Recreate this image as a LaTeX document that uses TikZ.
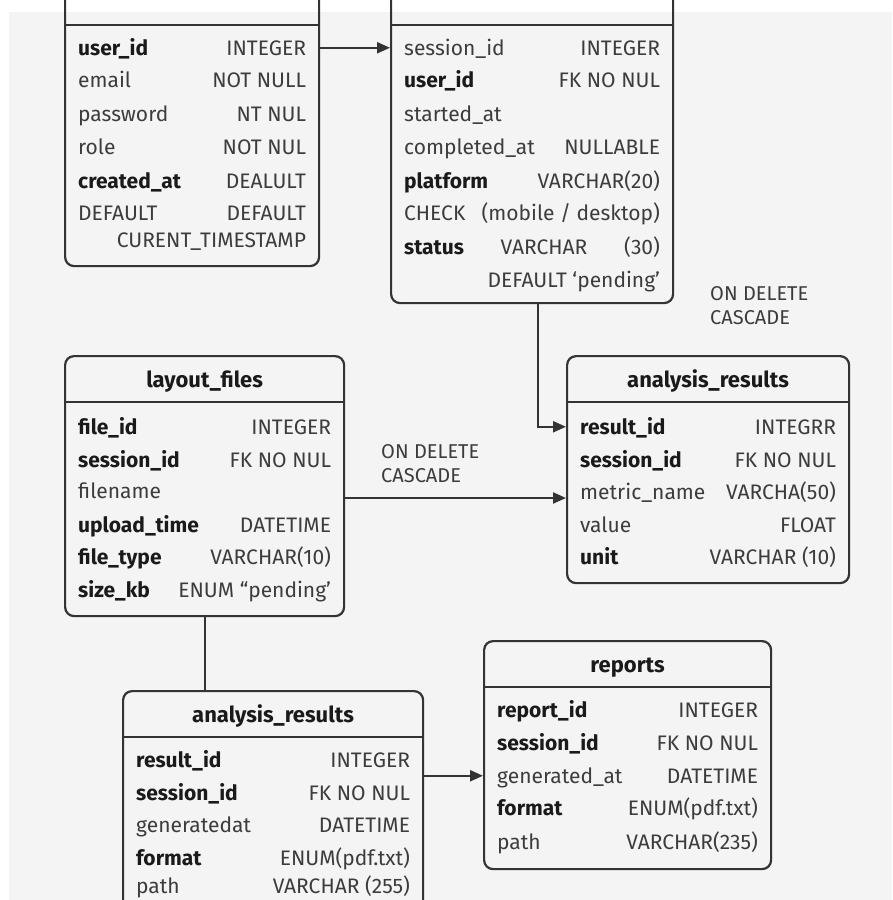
\documentclass[tikz,border=0pt]{standalone}
\usepackage{fontspec}
\setmainfont{Fira Sans}
\usetikzlibrary{arrows.meta,calc}

\definecolor{panel}{HTML}{F4F4F4}
\definecolor{edge}{HTML}{333333}
\definecolor{ink}{HTML}{1A1A1A}
\definecolor{soft}{HTML}{3C3C3C}

\tikzset{
  tbl/.style={draw=edge, line width=2.2pt, rounded corners=9pt, inner sep=0pt, anchor=north west},
  ttl/.style={font=\fontsize{22}{24}\selectfont\bfseries, text=ink, inner sep=0pt, anchor=base},
  keyf/.style={font=\fontsize{21}{24}\selectfont\bfseries, text=ink, anchor=base west, inner sep=0pt},
  fld/.style={font=\fontsize{21}{24}\selectfont, text=soft, anchor=base west, inner sep=0pt},
  typ/.style={font=\fontsize{21}{24}\selectfont, text=soft, anchor=base east, inner sep=0pt},
  link/.style={draw=edge, line width=2.2pt},
  fk/.style={link, -{Triangle[length=13pt,width=11pt]}},
  note/.style={font=\fontsize{20}{24}\selectfont, text=soft, align=left, anchor=north west, inner sep=0pt}
}

% table frame: name, left, top, right, bottom, title
\newcommand\ertable[6]{%
  \node[tbl, minimum width={#4pt-#2pt}, minimum height={#5pt-#3pt}] (#1) at (#2,#3) {};
  \draw[link, line width=1.8pt] ([yshift=-47pt]#1.north west) -- ([yshift=-47pt]#1.north east);
  \node[ttl] (#1-t) at ([yshift=-32pt]#1.north) {#6};
}
% one column line: table, index, centre y, left style, name, type
\newcommand\erfield[6]{%
  \node[#4] (#1-#2l) at ([xshift=14pt]#1.west |- 0,#3+7) {#5};
  \node[typ] (#1-#2r) at ([xshift=-14pt]#1.east |- 0,#3+7) {#6};
}

\begin{document}
\begin{tikzpicture}[x=1pt, y=-1pt]
  \useasboundingbox (0,0) rectangle (892,900);
  \clip (0,0) rectangle (892,900);
  \fill[white] (0,0) rectangle (892,900);
  \fill[panel] (9,12) rectangle (892,900);

  % users
  \ertable{u}{64}{-22}{318}{265}{}
  \erfield{u}{1}{48}{keyf}{user\_id}{INTEGER}
  \erfield{u}{2}{80}{fld}{email}{NOT NULL}
  \erfield{u}{3}{114}{fld}{password}{NT NUL}
  \erfield{u}{4}{147}{fld}{role}{NOT NUL}
  \erfield{u}{5}{181}{keyf}{created\_at}{DEALULT}
  \erfield{u}{6}{213}{fld}{DEFAULT}{DEFAULT}
  \erfield{u}{7}{240}{fld}{}{CURENT\_TIMESTAMP}

  % sessions
  \ertable{s}{390}{-22}{672}{302}{}
  \erfield{s}{1}{48}{fld}{session\_id}{INTEGER}
  \erfield{s}{2}{80}{keyf}{user\_id}{FK NO NUL}
  \erfield{s}{3}{114}{fld}{started\_at}{}
  \erfield{s}{4}{147}{fld}{completed\_at}{NULLABLE}
  \erfield{s}{5}{181}{keyf}{platform}{VARCHAR(20)}
  \erfield{s}{6}{213}{fld}{CHECK}{(mobile / desktop)}
  \erfield{s}{7}{247}{keyf}{status}{(30)}
  \node[typ, anchor=base] (s-7m) at (544,254) {VARCHAR};
  \erfield{s}{8}{280}{fld}{}{DEFAULT ‘pending’}

  % analysis_results (right)
  \ertable{a}{566}{355}{848}{582}{analysis\_results}
  \erfield{a}{1}{427}{keyf}{result\_id}{INTEGRR}
  \erfield{a}{2}{460}{keyf}{session\_id}{FK NO NUL}
  \erfield{a}{3}{492}{fld}{metric\_name}{VARCHA(50)}
  \erfield{a}{4}{525}{fld}{value}{FLOAT}
  \erfield{a}{5}{557}{keyf}{unit}{VARCHAR (10)}

  % layout_files
  \ertable{l}{64}{355}{343}{615}{layout\_files}
  \erfield{l}{1}{427}{keyf}{file\_id}{INTEGER}
  \erfield{l}{2}{460}{keyf}{session\_id}{FK NO NUL}
  \erfield{l}{3}{491}{fld}{filename}{}
  \erfield{l}{4}{525}{keyf}{upload\_time}{DATETIME}
  \erfield{l}{5}{557}{keyf}{file\_type}{VARCHAR(10)}
  \erfield{l}{6}{590}{keyf}{size\_kb}{ENUM “pending’}

  % analysis_results (bottom)
  \ertable{b}{122}{690}{422}{925}{analysis\_results}
  \erfield{b}{1}{760}{keyf}{result\_id}{INTEGER}
  \erfield{b}{2}{793}{keyf}{session\_id}{FK NO NUL}
  \erfield{b}{3}{825}{fld}{generatedat}{DATETIME}
  \erfield{b}{4}{858}{keyf}{format}{ENUM(pdf.txt)}
  \erfield{b}{5}{886}{fld}{path}{VARCHAR (255)}

  % reports
  \ertable{r}{483}{640}{770}{868}{reports}
  \erfield{r}{1}{710}{keyf}{report\_id}{INTEGER}
  \erfield{r}{2}{743}{keyf}{session\_id}{FK NO NUL}
  \erfield{r}{3}{776}{fld}{generated\_at}{DATETIME}
  \erfield{r}{4}{808}{keyf}{format}{ENUM(pdf.txt)}
  \erfield{r}{5}{842}{fld}{path}{VARCHAR(235)}

  % relationships
  \draw[fk] (u.east |- u-1r.east) -- (s.west |- u-1r.east);
  \draw[fk] ([xshift=6pt]s.south) |- (a.west |- a-1r.east);
  \draw[fk] (l.east |- l-3l.base) -- (a.west |- l-3l.base);
  \draw[link] (l.south) -- (l.south |- b.north);
  \draw[fk] (b.east |- r-3r.east) -- (r.west |- r-3r.east);

  \node[note] (n1) at (710,286) {ON DELETE\\CASCADE};
  \node[note] (n2) at (381,444) {ON DELETE\\CASCADE};
\end{tikzpicture}
\end{document}
